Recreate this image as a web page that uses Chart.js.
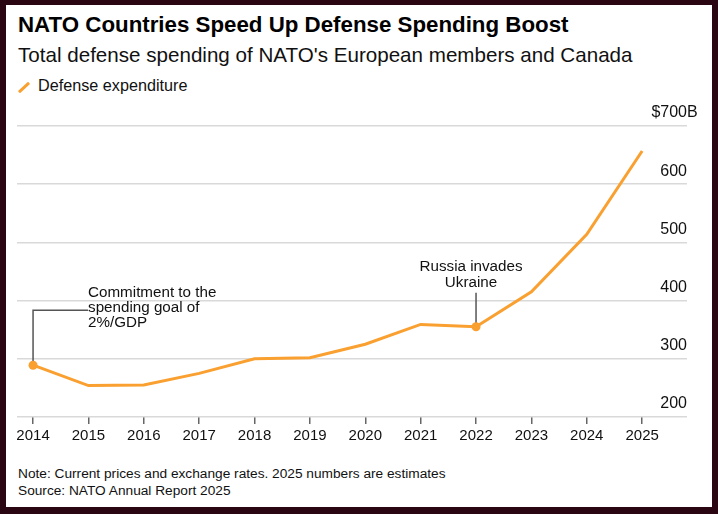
<!DOCTYPE html>
<html>
<head>
<meta charset="utf-8">
<script src="https://cdn.jsdelivr.net/npm/chart.js@4"></script>
<style>
    html, body { margin: 0; padding: 0; }
    body {
        width: 718px; height: 514px; overflow: hidden;
        background: #2a0613; position: relative;
        font-family: "Liberation Sans", Arial, sans-serif; color: #111;
    }
    #panel { position: absolute; left: 6px; top: 5px; width: 706px; height: 502px; background: #fff; }
    .txt { position: absolute; left: 18px; line-height: 1; white-space: nowrap; }
    #title { top: 13.8px; font-size: 22.3px; font-weight: bold; color: #000; }
    #subtitle { top: 45.4px; font-size: 20.6px; }
    #legend { top: 77.4px; left: 38px; font-size: 16.2px; }
    #legendMark { position: absolute; left: 17px; top: 86px; width: 14px; height: 3px; background: #f9a030; transform: rotate(-42deg); border-radius: 1px; }
    .note { font-size: 13.7px; }
    #note1 { top: 467.3px; }
    #note2 { top: 483.8px; }
    #chart { position: absolute; left: 0; top: 0; }
</style>
</head>
<body>
<div id="panel"></div>
<div class="txt" id="title">NATO Countries Speed Up Defense Spending Boost</div>
<div class="txt" id="subtitle">Total defense spending of NATO's European members and Canada</div>
<div id="legendMark"></div>
<div class="txt" id="legend">Defense expenditure</div>
<div class="txt note" id="note1">Note: Current prices and exchange rates. 2025 numbers are estimates</div>
<div class="txt note" id="note2">Source: NATO Annual Report 2025</div>
<canvas id="chart" width="718" height="514"></canvas>

<script>
// Datos (miles de millones de USD)
const years = [2014, 2015, 2016, 2017, 2018, 2019, 2020, 2021, 2022, 2023, 2024, 2025];
const spending = [289, 254, 255, 275, 300, 302, 325, 359, 355, 415, 514, 657];
const yTicks = [200, 300, 400, 500, 600, 700];
const markedYears = [2014, 2022];
const notes = [
    { year: 2014, lines: ['Commitment to the', 'spending goal of', '2%/GDP'] },
    { year: 2022, lines: ['Russia invades', 'Ukraine'] }
];

const ORANGE = '#f9a030';
const FONT = '"Liberation Sans", Arial, sans-serif';

// Anotaciones con línea guía
const annotationPlugin = {
    id: 'callouts',
    afterDatasetsDraw(chart) {
        const ctx = chart.ctx;
        const xs = chart.scales.x, ys = chart.scales.y;
        ctx.save();
        ctx.strokeStyle = '#555';
        ctx.lineWidth = 1.5;
        ctx.fillStyle = '#111';
        ctx.font = '15.2px ' + FONT;

        // 2014: linea en codo
        const a = notes[0];
        const ax = xs.getPixelForValue(a.year);
        const ay = ys.getPixelForValue(spending[years.indexOf(a.year)]);
        const elbowY = ay - 55;
        ctx.beginPath();
        ctx.moveTo(ax, ay);
        ctx.lineTo(ax, elbowY);
        ctx.lineTo(ax + 55, elbowY);
        ctx.stroke();
        ctx.textAlign = 'left';
        ctx.textBaseline = 'alphabetic';
        a.lines.forEach((l, i) => ctx.fillText(l, ax + 55, elbowY - 13 + i * 15));

        // 2022: linea vertical
        const b = notes[1];
        const bx = xs.getPixelForValue(b.year);
        const by = ys.getPixelForValue(spending[years.indexOf(b.year)]);
        ctx.beginPath();
        ctx.moveTo(bx, by);
        ctx.lineTo(bx, by - 34);
        ctx.stroke();
        ctx.textAlign = 'center';
        b.lines.forEach((l, i) => ctx.fillText(l, bx - 5, by - 56 + i * 16.5));

        // Redibujar los puntos encima de las guías
        const meta = chart.getDatasetMeta(0);
        meta.data.forEach((pt, i) => {
            if (markedYears.includes(years[i])) {
                ctx.beginPath();
                ctx.fillStyle = ORANGE;
                ctx.arc(pt.x, pt.y, 4.5, 0, Math.PI * 2);
                ctx.fill();
            }
        });

        // Sufijo "B" del tick superior
        ctx.fillStyle = '#111';
        ctx.font = '16px ' + FONT;
        ctx.textAlign = 'left';
        ctx.textBaseline = 'middle';
        ctx.fillText('B', chart.chartArea.right, ys.getPixelForValue(yTicks[yTicks.length - 1]) - 13);
        ctx.restore();
    }
};

new Chart(document.getElementById('chart').getContext('2d'), {
    type: 'line',
    data: {
        datasets: [{
            label: 'Defense expenditure',
            data: years.map((y, i) => ({ x: y, y: spending[i] })),
            borderColor: ORANGE,
            borderWidth: 3,
            tension: 0,
            pointRadius: 0,
            pointHoverRadius: 0,
            fill: false
        }]
    },
    options: {
        responsive: false,
        animation: false,
        devicePixelRatio: 1,
        layout: { padding: { left: 17, right: 31, top: 126, bottom: 67 } },
        plugins: {
            legend: { display: false },
            tooltip: { enabled: false }
        },
        scales: {
            x: {
                type: 'linear',
                position: 'bottom',
                min: 2013.71,
                max: 2025.81,
                afterFit: s => { s.height = 30; },
                border: { display: false },
                grid: { drawOnChartArea: false, drawTicks: true, tickLength: 7, color: '#666', lineWidth: 1.5 },
                ticks: {
                    stepSize: 1,
                    includeBounds: false,
                    autoSkip: false,
                    maxRotation: 0,
                    padding: 3,
                    color: '#111',
                    font: { family: FONT, size: 15 },
                    callback: v => String(v)
                }
            },
            y: {
                position: 'right',
                min: yTicks[0],
                max: yTicks[yTicks.length - 1],
                afterFit: s => { s.width = 0; },
                afterBuildTicks: s => { s.ticks = yTicks.map(v => ({ value: v })); },
                border: { display: false },
                grid: { color: '#d9d9d9', lineWidth: 1.5, drawTicks: false },
                ticks: {
                    mirror: true,
                    padding: 0,
                    labelOffset: -13,
                    color: '#111',
                    font: { family: FONT, size: 16 },
                    callback: v => v === yTicks[yTicks.length - 1] ? '$' + v : String(v)
                }
            }
        }
    },
    plugins: [annotationPlugin]
});
</script>
</body>
</html>
